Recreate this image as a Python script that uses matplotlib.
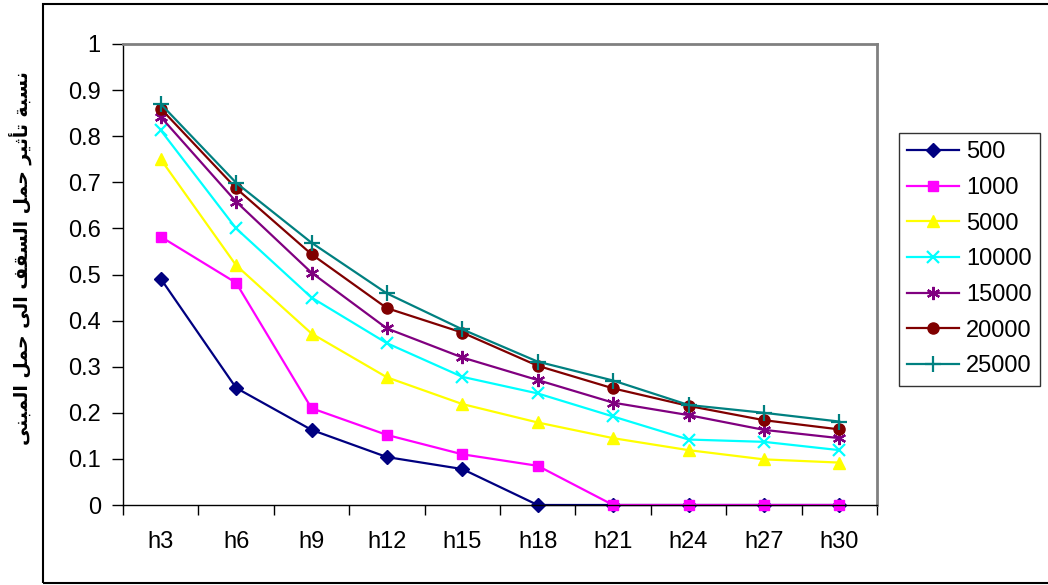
import numpy as np
import matplotlib.pyplot as plt
from matplotlib.patches import Rectangle

# heights and load ratios for each load case
heights = ["h3", "h6", "h9", "h12", "h15", "h18", "h21", "h24", "h27", "h30"]
load_500 = [0.491, 0.254, 0.163, 0.104, 0.078, 0, 0, 0, 0, 0]
load_1000 = [0.582, 0.482, 0.210, 0.152, 0.110, 0.085, 0, 0, 0, 0]
load_5000 = [0.750, 0.520, 0.372, 0.277, 0.219, 0.179, 0.145, 0.119, 0.099, 0.092]
load_10000 = [0.813, 0.600, 0.450, 0.351, 0.278, 0.242, 0.192, 0.142, 0.137, 0.119]
load_15000 = [0.842, 0.658, 0.504, 0.383, 0.320, 0.271, 0.222, 0.195, 0.163, 0.145]
load_20000 = [0.860, 0.687, 0.544, 0.427, 0.374, 0.302, 0.253, 0.215, 0.184, 0.164]
load_25000 = [0.870, 0.699, 0.569, 0.459, 0.381, 0.311, 0.270, 0.217, 0.200, 0.181]
series_names = ["500", "1000", "5000", "10000", "15000", "20000", "25000"]

ylabel_text = "نسبة تأثير حمل السقف الى حمل المبنى"

# arabic presentation forms: isolated, final, initial, medial
forms = {
    "ا": ("\uFE8D", "\uFE8E", None, None),
    "أ": ("\uFE83", "\uFE84", None, None),
    "ب": ("\uFE8F", "\uFE90", "\uFE91", "\uFE92"),
    "ة": ("\uFE93", "\uFE94", None, None),
    "ت": ("\uFE95", "\uFE96", "\uFE97", "\uFE98"),
    "ث": ("\uFE99", "\uFE9A", "\uFE9B", "\uFE9C"),
    "ح": ("\uFEA1", "\uFEA2", "\uFEA3", "\uFEA4"),
    "ر": ("\uFEAD", "\uFEAE", None, None),
    "س": ("\uFEB1", "\uFEB2", "\uFEB3", "\uFEB4"),
    "ف": ("\uFED1", "\uFED2", "\uFED3", "\uFED4"),
    "ق": ("\uFED5", "\uFED6", "\uFED7", "\uFED8"),
    "ل": ("\uFEDD", "\uFEDE", "\uFEDF", "\uFEE0"),
    "م": ("\uFEE1", "\uFEE2", "\uFEE3", "\uFEE4"),
    "ن": ("\uFEE5", "\uFEE6", "\uFEE7", "\uFEE8"),
    "ى": ("\uFEEF", "\uFEF0", None, None),
    "ي": ("\uFEF1", "\uFEF2", "\uFEF3", "\uFEF4"),
}


def shape_arabic(s):
    out = []
    for i, c in enumerate(s):
        if c not in forms:
            out.append(c)
            continue
        prev = s[i - 1] if i > 0 else ""
        nxt = s[i + 1] if i < len(s) - 1 else ""
        join_prev = prev in forms and forms[prev][2] is not None
        join_next = forms[c][2] is not None and nxt in forms
        iso, fin, ini, med = forms[c]
        if join_prev and join_next:
            out.append(med)
        elif join_prev:
            out.append(fin)
        elif join_next:
            out.append(ini)
        else:
            out.append(iso)
    return "".join(out)[::-1]


plt.rcParams["font.family"] = ["Liberation Sans", "DejaVu Sans"]

fig = plt.figure(figsize=(10.48, 5.85), dpi=100)
ax = fig.add_axes([123 / 1048, 80 / 585, 754 / 1048, 461 / 585])

x = np.arange(len(heights))
all_series = [load_500, load_1000, load_5000, load_10000, load_15000, load_20000, load_25000]
colors = ["#000080", "#FF00FF", "#FFFF00", "#00FFFF", "#800080", "#800000", "#008080"]
markers = ["D", "s", "^", "x", (6, 2, 0), "o", "+"]
msizes = [7, 7.5, 8.5, 8.5, 9.5, 8, 11]

for vals, name, c, m, ms in zip(all_series, series_names, colors, markers, msizes):
    ax.plot(x, vals, color=c, lw=1.6, marker=m, markersize=ms,
            markeredgewidth=1.6 if m in ("x", "+") or isinstance(m, tuple) else 1,
            markeredgecolor=c, label=name, clip_on=False)

ax.set_xlim(-0.5, len(heights) - 0.5)
ax.set_ylim(0, 1)
ax.set_yticks(np.arange(0, 1.01, 0.1))
ax.set_yticklabels(["0", "0.1", "0.2", "0.3", "0.4", "0.5", "0.6", "0.7", "0.8", "0.9", "1"])
ax.tick_params(axis="y", direction="out", length=8, width=1, pad=8, labelsize=17)

ax.set_xticks(np.arange(-0.5, len(heights), 1))
ax.set_xticklabels([])
ax.tick_params(axis="x", which="major", direction="out", length=7, width=1)
ax.set_xticks(x, minor=True)
ax.set_xticklabels(heights, minor=True)
ax.tick_params(axis="x", which="minor", length=0, pad=19, labelsize=17)

for side in ("top", "right"):
    ax.spines[side].set_color("#808080")
    ax.spines[side].set_linewidth(2)
for side in ("left", "bottom"):
    ax.spines[side].set_color("black")
    ax.spines[side].set_linewidth(1)

fig.text(20 / 1048, 1 - 258 / 585, shape_arabic(ylabel_text), rotation=90,
         ha="center", va="center", fontsize=13.5, fontweight="bold",
         family=["DejaVu Sans"])

leg = fig.legend(loc="upper left", bbox_to_anchor=(899 / 1048, 1 - 133 / 585),
                 frameon=True, fancybox=False, edgecolor="black", fontsize=17,
                 handlelength=2.2, labelspacing=0.58, borderpad=0.35,
                 handletextpad=0.3, borderaxespad=0)
leg.get_frame().set_linewidth(1)

fig.patches.append(Rectangle((43 / 1048, 2 / 585), 1.2, 579 / 585,
                             transform=fig.transFigure, fill=False,
                             edgecolor="black", lw=1.5))

fig.savefig("out.png", dpi=100)
